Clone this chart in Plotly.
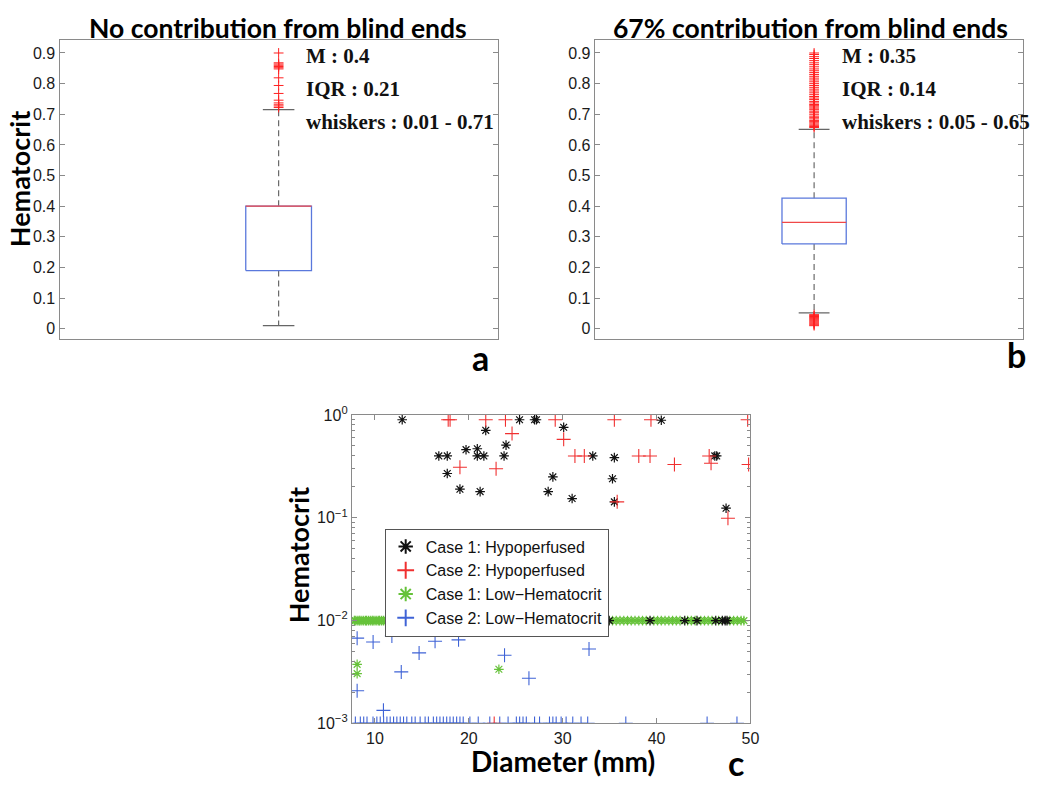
import plotly.graph_objects as go

# ---------------- Data ----------------
# Panel a: no contribution from blind ends
a_q1, a_median, a_q3 = 0.19, 0.40, 0.40
a_lower_whisker, a_upper_whisker = 0.01, 0.715
a_outliers = [0.722, 0.727, 0.731, 0.737, 0.746, 0.768, 0.794, 0.819,
              0.848, 0.852, 0.856, 0.86, 0.864, 0.868, 0.90]
a_stats_text = ["M : 0.4", "IQR : 0.21", "whiskers : 0.01 - 0.71"]

# Panel b: 67% contribution from blind ends
b_q1, b_median, b_q3 = 0.277, 0.347, 0.426
b_lower_whisker, b_upper_whisker = 0.052, 0.651
b_outliers = [0.657, 0.66, 0.664, 0.668, 0.672, 0.676, 0.68, 0.685, 0.69, 0.694,
              0.70, 0.705, 0.71, 0.715, 0.72, 0.724, 0.728, 0.732, 0.737, 0.742,
              0.748, 0.753, 0.758, 0.764, 0.77, 0.776, 0.782, 0.788, 0.794, 0.80,
              0.806, 0.812, 0.818, 0.824, 0.83, 0.836, 0.842, 0.848, 0.855, 0.862,
              0.868, 0.875, 0.882, 0.888, 0.895, 0.90,
              0.01, 0.013, 0.016, 0.019, 0.022, 0.025, 0.028, 0.031, 0.034,
              0.037, 0.04, 0.043, 0.046]
b_stats_text = ["M : 0.35", "IQR : 0.14", "whiskers : 0.05 - 0.65"]

box_yticks = [0, 0.1, 0.2, 0.3, 0.4, 0.5, 0.6, 0.7, 0.8, 0.9]
box_yticklabels = ["0", "0.1", "0.2", "0.3", "0.4", "0.5", "0.6", "0.7", "0.8", "0.9"]

# Panel c: Hematocrit vs Diameter
c1_hypo_x = [12.9, 16.8, 17.7, 17.7, 19.05, 19.7, 20.9, 20.9, 21.6, 21.2, 21.8, 23.75,
             23.96, 25.4, 27.0, 27.2, 28.45, 28.95, 30.1, 31.0, 33.2, 35.3, 35.5, 35.5,
             40.5, 46.2, 46.4, 47.4,
             34.95, 39.3, 43.0, 44.3, 46.3, 47.0, 47.3, 47.5]
c1_hypo_y = [0.9, 0.4, 0.4, 0.27, 0.19, 0.46, 0.47, 0.4, 0.4, 0.18, 0.71, 0.4,
             0.51, 0.9, 0.9, 0.9, 0.18, 0.25, 0.76, 0.154, 0.4, 0.24, 0.385, 0.143,
             0.89, 0.4, 0.4, 0.124,
             0.01, 0.01, 0.01, 0.01, 0.01, 0.01, 0.01, 0.01]

c2_hypo_x = [17.8, 18.0, 21.8, 23.9, 29.2, 35.5, 39.4, 49.7, 24.6, 30.1, 19.05, 22.9,
             31.3, 32.3, 38.1, 39.3, 41.9, 45.6, 45.8, 49.8, 35.8, 47.6, 22.7]
c2_hypo_y = [0.9, 0.9, 0.9, 0.9, 0.9, 0.9, 0.9, 0.9, 0.66, 0.58, 0.31, 0.30,
             0.4, 0.4, 0.4, 0.4, 0.33, 0.4, 0.34, 0.33, 0.143, 0.099, 0.001]

# Case 1 low-hematocrit: vessels at the 0.01 floor, plus three lower ones
c1_low_floor_x = [7.8, 7.9, 8.1, 8.3, 8.4, 8.6, 8.8, 9.0, 9.1, 9.3, 9.5, 9.7, 9.8, 10.0,
                  10.2, 10.4, 10.5, 10.7, 10.9, 11.1, 11.2, 11.4, 11.6, 11.8, 12.0, 12.1,
                  12.3, 12.5, 12.7, 12.8, 13.0, 13.2, 13.4, 13.6, 13.7, 13.9, 14.1, 14.3,
                  14.5, 14.6, 14.8, 15.0, 15.2, 15.4, 15.5, 15.7, 15.9, 16.1, 16.3, 16.4,
                  16.6, 16.8, 17.0, 17.2, 17.3, 17.5, 17.7, 17.9, 18.1, 18.2, 18.4, 18.6,
                  18.8, 19.0, 19.1, 19.3, 19.5, 19.7, 19.9, 20.0, 20.2, 20.4, 20.6, 20.8,
                  20.9, 21.1, 21.3, 21.5, 21.7, 21.8, 22.0, 22.2, 22.4, 22.6, 22.7, 22.9,
                  23.1, 23.3, 23.5, 23.6, 23.8, 24.0, 24.2, 24.4, 24.5, 24.7, 24.9, 25.1,
                  25.3, 25.4, 25.6, 25.8, 26.0, 26.2, 26.3, 26.5, 26.7, 26.9, 27.1, 27.2,
                  27.4, 27.6, 27.8, 28.0, 28.1, 28.3, 28.5, 28.7, 28.9, 29.0, 29.2, 29.4,
                  29.6, 29.8, 29.9, 30.1, 30.3, 30.5, 30.7, 30.9, 31.0,
                  31.5, 31.9, 32.4, 32.8, 33.2, 33.6, 34.0, 34.4, 35.3, 35.7, 36.1, 36.5,
                  36.9, 37.3, 37.7, 38.1, 38.5, 38.9, 39.7, 40.1, 40.5, 40.9, 41.3, 41.7,
                  42.1, 42.5, 43.3, 43.7, 44.1, 44.7, 45.1, 45.5, 45.9, 46.6, 47.8, 48.2,
                  48.6, 49.0, 49.3]
c1_low_floor_y = 0.01
c1_low_other_x = [8.1, 8.1, 23.2]
c1_low_other_y = [0.00375, 0.00305, 0.00336]

# Case 2 low-hematocrit: scattered ones plus vessels at the 0.001 floor
c2_low_other_x = [8.1, 9.8, 11.8, 14.7, 16.4, 18.9, 12.8, 8.1, 10.9, 23.8, 26.4, 32.8]
c2_low_other_y = [0.00675, 0.0062, 0.0071, 0.00485, 0.0063, 0.0065, 0.00317, 0.00208,
                  0.00134, 0.0046, 0.00275, 0.0053]
c2_low_floor_x = [7.91, 8.44, 8.8, 9.15, 9.79, 10.2, 10.56, 10.92, 11.27, 11.62, 11.98,
                  12.33, 12.69, 13.04, 13.39, 13.92, 14.28, 14.81, 15.34, 15.69, 16.22,
                  16.57, 16.92, 17.28, 17.64, 17.99, 18.34, 18.7, 19.05, 19.4, 20.11, 21.0,
                  22.23, 23.29, 24.18, 25.06, 25.41, 25.77, 26.12, 27.0, 27.53, 28.59,
                  28.95, 29.3, 29.83, 30.36, 31.07, 31.95, 32.66, 36.72, 45.38, 48.56]
c2_low_floor_y = 0.001

c1_low_x = c1_low_floor_x + c1_low_other_x
c1_low_y = [c1_low_floor_y] * len(c1_low_floor_x) + c1_low_other_y
c2_low_x = c2_low_other_x + c2_low_floor_x
c2_low_y = c2_low_other_y + [c2_low_floor_y] * len(c2_low_floor_x)

c_xticks = [10, 20, 30, 40, 50]
c_yticks = [0.001, 0.01, 0.1, 1]
c_yticklabels = ["10<sup>\u22123</sup>", "10<sup>\u22122</sup>", "10<sup>\u22121</sup>", "10<sup>0</sup>"]
c_yminor = [m * 10 ** e for e in (-3, -2, -1) for m in range(2, 10)]

# ---------------- Styling / layout ----------------
# The page places the figure 8px in from the top-left (body margin),
# so the figure is sized to fill the 1050x793 window exactly.
FIG_W, FIG_H = 1034, 777
OFF_X, OFF_Y = 8, 8
FRAME = "#8a8a8a"
BOX_BLUE = "#5a78dc"
MED_RED = "#f04848"
OUT_RED = "#ff2020"
TITLE_FONT = "Lato"
TICK_FONT = dict(family="Liberation Sans", size=16, color="#1a1a1a")


def px(x):
    return (x - OFF_X) / FIG_W


def py(y):
    return 1 - (y - OFF_Y) / FIG_H


fig = go.Figure()


def add_box(xa, ya, q1, med, q3, lo, hi, outliers):
    c, hw, cw = 1.0, 0.075, 0.036
    common = dict(xaxis=xa, yaxis=ya, showlegend=False, hoverinfo="skip", mode="lines")
    fig.add_trace(go.Scatter(x=[c, c, None, c, c], y=[q3, hi, None, q1, lo],
                             line=dict(color="#6a6a6a", width=1.2, dash="6px,4px"), **common))
    fig.add_trace(go.Scatter(x=[c - cw, c + cw, None, c - cw, c + cw], y=[hi, hi, None, lo, lo],
                             line=dict(color="#666666", width=1.3), **common))
    fig.add_trace(go.Scatter(x=[c - hw, c + hw, c + hw, c - hw, c - hw], y=[q1, q1, q3, q3, q1],
                             line=dict(color=BOX_BLUE, width=1.3), **common))
    fig.add_trace(go.Scatter(x=[c - hw, c + hw], y=[med, med],
                             line=dict(color=MED_RED, width=1.3), **common))
    fig.add_trace(go.Scatter(x=[c] * len(outliers), y=outliers, mode="markers",
                             xaxis=xa, yaxis=ya, showlegend=False, hoverinfo="skip",
                             marker=dict(symbol="cross-thin-open", size=7, color=OUT_RED,
                                         line=dict(color=OUT_RED, width=1))))


add_box("x", "y", a_q1, a_median, a_q3, a_lower_whisker, a_upper_whisker, a_outliers)
add_box("x2", "y2", b_q1, b_median, b_q3, b_lower_whisker, b_upper_whisker, b_outliers)

GREEN = "#66c23a"
BLUE = "#3f63d6"
fig.add_trace(go.Scatter(x=c1_low_x, y=c1_low_y, mode="markers", xaxis="x3", yaxis="y3",
                         name="Case 1: Low\u2212Hematocrit", legendrank=3,
                         marker=dict(symbol="asterisk-open", size=8, color=GREEN,
                                     line=dict(color=GREEN, width=1.2))))
fig.add_trace(go.Scatter(x=c2_low_x, y=c2_low_y, mode="markers", xaxis="x3", yaxis="y3",
                         name="Case 2: Low\u2212Hematocrit", legendrank=4,
                         marker=dict(symbol="cross-thin-open", size=10, color=BLUE,
                                     line=dict(color=BLUE, width=1.1))))
fig.add_trace(go.Scatter(x=c1_hypo_x, y=c1_hypo_y, mode="markers", xaxis="x3", yaxis="y3",
                         name="Case 1: Hypoperfused", legendrank=1,
                         marker=dict(symbol="asterisk-open", size=8, color="#111111",
                                     line=dict(color="#111111", width=1.2))))
fig.add_trace(go.Scatter(x=c2_hypo_x, y=c2_hypo_y, mode="markers", xaxis="x3", yaxis="y3",
                         name="Case 2: Hypoperfused", legendrank=2,
                         marker=dict(symbol="cross-thin-open", size=10, color="#f03030",
                                     line=dict(color="#f03030", width=1.1))))

axis_common = dict(showline=True, linecolor=FRAME, linewidth=1.3, mirror="allticks",
                   showgrid=False, zeroline=False, ticks="inside", tickcolor=FRAME,
                   ticklen=5, tickfont=TICK_FONT)

box_y = dict(axis_common, range=[-0.032, 0.941], tickvals=box_yticks, ticktext=box_yticklabels)
box_x = dict(showline=True, linecolor=FRAME, linewidth=1.3, mirror=True, showgrid=False,
             zeroline=False, showticklabels=False, ticks="")

fig.update_layout(
    width=FIG_W, height=FIG_H,
    margin=dict(l=0, r=0, t=0, b=0),
    paper_bgcolor="white", plot_bgcolor="white",
    xaxis=dict(box_x, domain=[px(60), px(502)], range=[0.5, 1.5], anchor="y"),
    yaxis=dict(box_y, domain=[py(336), py(30)], anchor="x"),
    xaxis2=dict(box_x, domain=[px(600), px(1032)], range=[0.488, 1.488], anchor="y2"),
    yaxis2=dict(box_y, domain=[py(336), py(30)], anchor="x2"),
    xaxis3=dict(axis_common, domain=[px(355), px(757)], range=[7.55, 50], anchor="y3",
                tickvals=c_xticks),
    yaxis3=dict(axis_common, type="log", domain=[py(731), py(414.5)], range=[-3, 0],
                anchor="x3", tickvals=c_yticks, ticktext=c_yticklabels,
                minor=dict(tickvals=c_yminor, ticks="inside", ticklen=3, tickcolor=FRAME)),
    legend=dict(x=px(388), y=py(531), xanchor="left", yanchor="top",
                bgcolor="white", bordercolor="#555555", borderwidth=1,
                font=dict(family="Liberation Sans", size=16, color="#111111"),
                traceorder="normal", tracegroupgap=0, itemsizing="constant"),
    showlegend=True,
)

annotations = []


def add_text(text, x, y, font, xanchor="center", yanchor="middle", textangle=0):
    annotations.append(dict(text=text, x=px(x), y=py(y), xref="paper", yref="paper",
                            showarrow=False, font=font, xanchor=xanchor, yanchor=yanchor,
                            textangle=textangle))


title_font = dict(family=TITLE_FONT, size=26.5, color="#000000", weight="bold")
label_font = dict(family=TITLE_FONT, size=27, color="#000000", weight="bold")
xlabel_font = dict(family=TITLE_FONT, size=28, color="#000000", weight="bold")
letter_font = dict(family=TITLE_FONT, size=34, color="#000000", weight="bold")
stat_font = dict(family="Liberation Serif", size=21, color="#111111", weight="bold")

add_text("No contribution from blind ends", 280, 17.5, title_font)
add_text("67% contribution from blind ends", 818, 17.5, title_font)
add_text("Hematocrit", 19.5, 172, label_font, textangle=-90)
for i, t in enumerate(a_stats_text):
    add_text(t, 307, 45.5 + i * 34, stat_font, xanchor="left")
for i, t in enumerate(b_stats_text):
    add_text(t, 847, 45.5 + i * 34, stat_font, xanchor="left")
add_text("a", 485, 355, letter_font)
add_text("b", 1025, 352, letter_font)
add_text("Hematocrit", 301, 558, label_font, textangle=-90)
add_text("Diameter (mm)", 568, 769.5, xlabel_font)
add_text("c", 742, 771, letter_font)

fig.update_layout(annotations=annotations)

fig.write_html("out.html")
